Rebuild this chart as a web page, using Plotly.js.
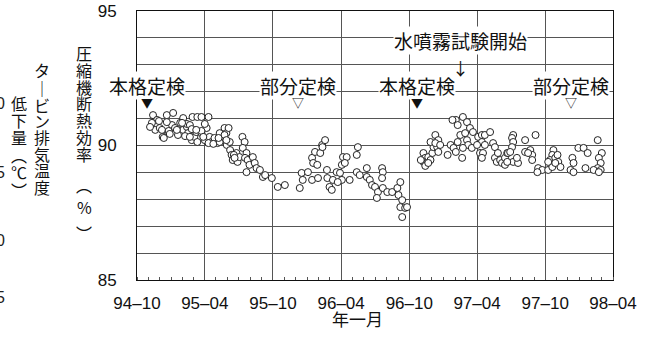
<!DOCTYPE html>
<html>
<head>
<meta charset="utf-8">
<script src="https://cdn.plot.ly/plotly-3.0.1.min.js"></script>
<style>
html,body{margin:0;padding:0;background:#fff;}
#chart{width:654px;height:344px;}
</style>
</head>
<body>
<div id="chart"></div>
<script>
// ---- Data ----
// Period 1: after major inspection (Oct 1994) up to Sep 1996
const period1Dates = [
  "1994-11-13","1994-11-24","1994-12-20","1995-01-06","1995-02-02",
  "1995-02-27","1995-03-12","1995-03-23","1995-04-11","1994-11-10",
  "1994-11-19","1994-12-01","1994-12-09","1994-12-23","1995-01-03",
  "1995-01-11","1995-01-19","1995-01-25","1995-02-02","1995-02-12",
  "1995-02-15","1995-02-25","1995-03-04","1995-03-09","1995-03-12",
  "1995-03-23","1995-04-01","1995-04-06","1995-04-14","1995-04-19",
  "1995-04-27","1995-05-05","1995-05-16","1995-05-24","1995-05-29",
  "1995-05-19","1995-05-30","1995-06-07","1995-06-08","1995-06-12",
  "1995-06-15","1995-06-25","1995-06-28","1995-07-03","1995-07-11",
  "1995-07-17","1995-07-12","1995-07-22","1995-07-18","1995-07-25",
  "1995-07-30","1995-07-22","1995-08-08","1995-08-13","1995-08-18",
  "1995-08-27","1995-09-04","1995-09-10","1995-09-28","1995-10-14",
  "1995-11-02","1995-12-12","1994-11-29","1994-12-20","1995-02-12",
  "1995-02-20","1994-12-07","1994-12-25","1995-02-25","1995-03-23",
  "1994-12-28","1995-02-07","1995-02-20","1995-03-28","1995-04-11",
  "1995-04-24","1995-05-11","1995-01-16","1995-01-30","1994-11-05",
  "1994-12-12","1995-05-11","1995-04-01","1995-03-09","1995-05-24",
  "1995-05-08","1995-05-29","1995-06-04","1995-06-18","1995-06-20",
  "1995-12-17","1995-12-20","1996-01-03","1996-01-14","1996-01-14",
  "1996-01-17","1996-01-28","1996-01-22","1996-01-30","1996-02-05",
  "1996-02-10","1996-02-18","1996-02-11","1996-02-23","1996-02-24",
  "1996-03-10","1996-03-01","1996-03-07","1996-03-20","1996-03-29",
  "1996-04-03","1996-04-06","1996-04-16","1996-04-11","1996-04-03",
  "1996-03-23","1996-04-24","1996-05-16","1996-05-13","1996-05-13",
  "1996-05-21","1996-06-09","1996-06-09","1996-06-17","1996-06-23",
  "1996-07-01","1996-07-09","1996-07-06","1996-07-20","1996-07-22",
  "1996-07-20","1996-07-22","1996-08-03","1996-08-16","1996-08-30",
  "1996-09-07","1996-09-02","1996-09-12","1996-09-07","1996-09-20",
  "1996-09-25","1996-09-12"
];
const period1Efficiency = [
  91.13,90.95,91.13,91.21,91.02,
  91.06,91.06,91.06,91.06,90.84,
  90.58,90.65,90.32,90.50,90.76,
  90.65,90.39,90.84,90.58,90.69,
  90.46,90.20,90.32,90.50,90.13,
  90.46,90.20,90.65,90.32,90.13,
  90.28,90.09,90.32,90.65,90.46,
  90.20,90.02,90.13,89.83,89.65,
  89.46,89.72,89.39,89.57,90.32,
  90.13,89.91,89.72,89.54,89.46,
  89.28,89.01,89.57,89.35,89.16,
  89.09,88.83,88.90,88.79,88.46,
  88.53,88.42,90.91,90.87,90.80,
  90.76,90.58,90.54,90.61,90.54,
  90.43,90.35,90.32,90.32,90.09,
  90.06,90.13,90.58,90.84,90.69,
  90.28,90.46,90.80,90.58,90.39,
  90.28,90.20,90.65,89.65,89.54,
  88.98,88.72,89.01,88.72,89.54,
  89.35,89.28,89.76,88.79,89.72,
  90.02,90.20,89.94,89.09,88.79,
  88.72,88.46,88.35,89.01,88.98,
  89.28,89.57,89.57,89.35,88.72,
  88.64,88.72,89.94,89.65,89.01,
  88.90,89.16,88.83,88.72,88.53,
  88.46,88.27,88.05,89.16,89.01,
  88.79,88.42,88.27,88.27,88.42,
  88.64,88.16,87.97,87.71,87.68,
  87.71,87.34
];
// Period 2: after major inspection (Oct 1996) up to Apr 1998
const period2Dates = [
  "1996-11-08","1996-11-13","1996-11-08","1996-11-19","1996-11-21",
  "1996-11-27","1996-12-02","1996-12-05","1996-11-27","1996-12-10",
  "1996-12-18","1996-12-15","1996-12-18","1996-12-10","1997-01-12",
  "1997-01-20","1997-01-28","1997-02-03","1997-02-08","1997-02-03",
  "1997-01-25","1997-02-08","1997-02-22","1997-03-05","1997-02-15",
  "1997-02-28","1997-03-05","1997-03-08","1997-03-13","1997-03-21",
  "1997-02-22","1997-03-18","1997-02-20","1997-04-04","1997-04-14",
  "1997-04-22","1997-04-14","1997-04-01","1997-04-22","1997-04-09",
  "1997-04-17","1997-04-14","1997-05-06","1997-05-14","1997-05-19",
  "1997-05-19","1997-05-27","1997-05-24","1997-06-02","1997-06-07",
  "1997-06-15","1997-06-15","1997-06-21","1996-11-01","1996-11-13",
  "1996-11-21","1996-12-23","1997-06-23","1997-07-07","1997-07-04",
  "1997-07-07","1997-07-04","1997-06-29","1997-07-07","1997-07-20",
  "1997-07-17","1997-06-21","1997-08-08","1997-09-05","1997-08-08",
  "1997-08-22","1997-08-27","1997-08-27","1997-08-16","1997-09-12",
  "1997-09-23","1997-09-10","1997-10-09","1997-10-20","1997-10-23",
  "1997-10-20","1997-10-14","1997-10-09","1997-10-28","1997-11-03",
  "1997-11-05","1997-11-11","1997-10-28","1997-12-13","1997-12-16",
  "1997-12-08","1997-12-16","1997-12-29","1998-01-12","1998-01-23",
  "1998-01-17","1998-02-19","1998-03-02","1998-02-22","1998-02-27",
  "1998-02-19","1998-02-27","1998-02-08","1998-02-22"
];
const period2Efficiency = [
  89.72,89.54,89.39,89.39,89.57,
  89.46,89.72,89.94,90.13,90.39,
  90.20,89.94,89.76,90.09,89.65,
  90.02,89.91,89.76,90.13,90.95,
  90.95,90.76,91.06,90.87,90.39,
  90.46,90.20,90.02,90.65,90.50,
  89.91,89.91,89.54,90.32,90.39,
  90.39,90.13,90.02,90.02,89.72,
  89.72,89.54,90.50,90.09,89.94,
  89.54,89.72,89.39,89.46,89.35,
  89.54,89.28,89.72,89.46,89.24,
  89.35,90.02,89.72,90.39,90.28,
  90.13,89.94,89.76,89.39,89.35,
  89.54,89.39,90.20,90.39,89.76,
  89.83,89.65,89.46,89.72,89.16,
  89.09,89.01,89.09,89.20,89.83,
  89.65,89.46,89.39,89.54,89.65,
  89.39,89.20,89.35,89.54,89.35,
  89.09,89.01,89.91,89.91,89.72,
  89.16,90.20,89.72,89.54,89.35,
  89.16,89.09,89.09,89.01
];
// Inspection events
const eventDates  = ["1994-10-28","1995-12-07","1996-10-21","1997-12-08"];
const eventLabels = ["本格定検","部分定検","本格定検","部分定検"];
const eventMarks  = ["▼","▽","▼","▽"];
const waterSprayDate  = "1997-02-15";
const waterSprayLabel = "水噴霧試験開始";
// Axes
const xTickVals = ["1994-10-01","1995-04-01","1995-10-01","1996-04-01","1996-10-01","1997-04-01","1997-10-01","1998-04-01"];
const xTickText = ["94–10","95–04","95–10","96–04","96–10","97–04","97–10","98–04"];
const yTickVals = [85, 90, 95];
const yTitleChars = ["圧","縮","機","断","熱","効","率","︵","%","︶"];
const y2TitleCol1 = ["タ","｜","ビ","ン","排","気","温","度"];
const y2TitleCol2 = ["低","下","量","︵","℃","︶"];
const y2TickFragments = ["0","5","0","5"];
const xTitle = "年一月";

// ---- Layout helpers (pixel -> paper) ----
const L = 137, R = 613, T = 11, B = 280;
const px = x => (x - L) / (R - L);
const py = y => (B - y) / (B - T);
const CJK = '"Noto Sans CJK JP", "Noto Sans CJK SC", sans-serif';
const LAT = '"Liberation Sans", Arial, sans-serif';

const annotations = [];
function charCol(chars, xPix, yPixList, size) {
  chars.forEach((c, i) => annotations.push({
    xref: 'paper', yref: 'paper', x: px(xPix), y: py(yPixList[i]),
    text: c, showarrow: false, xanchor: 'center', yanchor: 'middle',
    font: {family: CJK, size: size, color: '#111'}
  }));
}
charCol(yTitleChars, 84, [53,70,87,103,120,137,154,185,207,233], 16);
charCol(y2TitleCol1, 42, [70,88,105,121,137,154,170,187], 16);
charCol(y2TitleCol2, 19, [103,120,137,155,172,190], 16);
y2TickFragments.forEach((c, i) => annotations.push({
  xref: 'paper', yref: 'paper', x: px(0), y: py([103,173,240,297][i]),
  text: c, showarrow: false, xanchor: 'center', yanchor: 'middle',
  font: {family: LAT, size: 16, color: '#222'}
}));
// x-axis title
annotations.push({
  xref: 'paper', yref: 'paper', x: px(357), y: py(318),
  text: xTitle, showarrow: false, xanchor: 'center', yanchor: 'middle',
  font: {family: CJK, size: 17, color: '#111'}
});
// event labels
eventDates.forEach((d, i) => annotations.push({
  xref: 'x', yref: 'y', x: d, y: 92.22,
  text: eventLabels[i], showarrow: false, xanchor: 'center', yanchor: 'middle',
  bgcolor: 'white', borderpad: 0,
  font: {family: CJK, size: 19, color: '#111'}
}));
eventDates.forEach((d, i) => annotations.push({
  xref: 'x', yref: 'y', x: d, y: 91.6,
  text: eventMarks[i], showarrow: false, xanchor: 'center', yanchor: 'middle',
  font: {family: CJK, size: 12, color: '#111'}
}));
annotations.push({
  xref: 'x', yref: 'y', x: waterSprayDate, y: 93.9,
  text: waterSprayLabel, showarrow: false, xanchor: 'center', yanchor: 'middle',
  bgcolor: 'white', borderpad: 0,
  font: {family: CJK, size: 19, color: '#111'}
});
annotations.push({
  xref: 'x', yref: 'y', x: waterSprayDate, y: 92.9,
  text: "↓", showarrow: false, xanchor: 'center', yanchor: 'middle',
  font: {family: CJK, size: 17, color: '#111'}
});

const marker = {symbol: 'circle', size: 7, color: 'white', line: {color: '#222', width: 1}};
const traces = [
  {type: 'scatter', mode: 'markers', x: period1Dates, y: period1Efficiency, marker: marker, cliponaxis: false},
  {type: 'scatter', mode: 'markers', x: period2Dates, y: period2Efficiency, marker: marker, cliponaxis: false}
];

const layout = {
  width: 654, height: 344,
  margin: {l: L, r: 654 - R, t: T, b: 344 - B},
  paper_bgcolor: 'white', plot_bgcolor: 'white',
  showlegend: false,
  font: {family: LAT, size: 17, color: '#111'},
  xaxis: {
    type: 'date', range: ["1994-10-01", "1998-04-01"],
    tickvals: xTickVals, ticktext: xTickText,
    showgrid: true, gridcolor: '#555', gridwidth: 1,
    showline: true, linecolor: '#111', linewidth: 1, mirror: true,
    ticks: '', ticklabelstandoff: 8,
    minor: {dtick: 'M1', ticks: 'inside', ticklen: 3, tickcolor: '#555', showgrid: false},
    tickfont: {family: LAT, size: 17, color: '#111'},
    zeroline: false, fixedrange: true
  },
  yaxis: {
    range: [85, 95], tickvals: yTickVals,
    showgrid: true, gridcolor: '#555', gridwidth: 1,
    minor: {dtick: 1, showgrid: true, gridcolor: '#555', gridwidth: 1, ticks: ''},
    showline: true, linecolor: '#111', linewidth: 1, mirror: true,
    ticks: '', ticklabelstandoff: 16,
    tickfont: {family: LAT, size: 17, color: '#111'},
    zeroline: false, fixedrange: true
  },
  annotations: annotations
};

Plotly.newPlot('chart', traces, layout, {displayModeBar: false, staticPlot: true});
</script>
</body>
</html>
